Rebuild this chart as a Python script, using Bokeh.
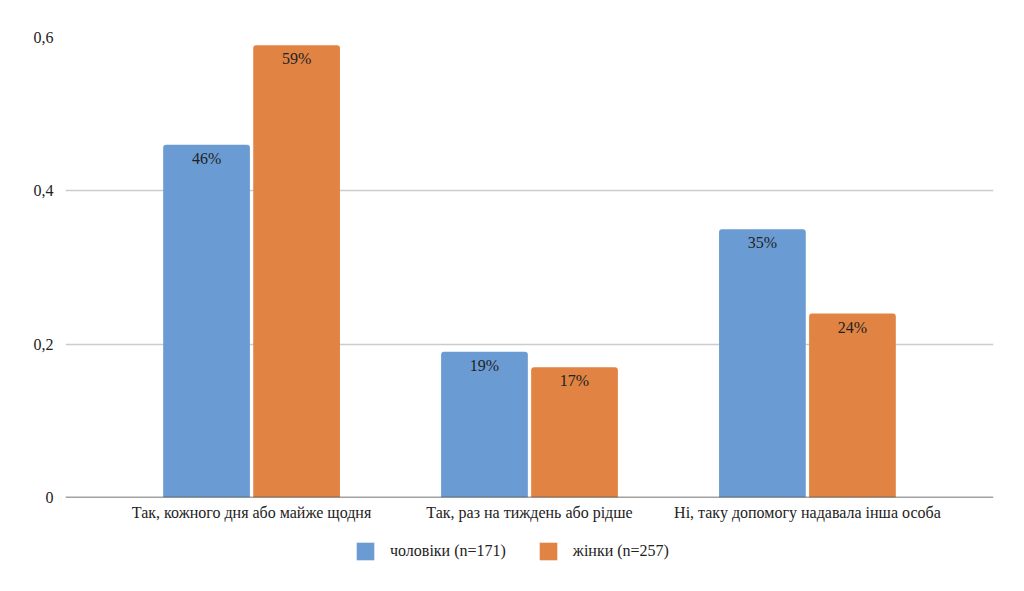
from bokeh.plotting import figure
from bokeh.layouts import column
from bokeh.models import (ColumnDataSource, FactorRange, Range1d, FixedTicker,
                          CustomJSTickFormatter, Legend, LegendItem, Span)
from bokeh.transform import dodge
from bokeh.core.properties import value
from bokeh.embed import file_html
from bokeh.resources import INLINE

categories = ["Так, кожного дня або майже щодня",
              "Так, раз на тиждень або рідше",
              "Ні, таку допомогу надавала інша особа"]
men = [0.46, 0.19, 0.35]
women = [0.59, 0.17, 0.24]
series_names = ["чоловіки (n=171)", "жінки (n=257)"]
y_ticks = [0, 0.2, 0.4, 0.6]

FONT = "'Liberation Serif', 'Times New Roman', serif"
FS = "16px"
BLUE = "#6a9bd3"
ORANGE = "#e08343"
TXT = "#222222"

src = ColumnDataSource(dict(
    cat=categories, men=men, women=women,
    men_lbl=[f"{round(v*100)}%" for v in men],
    women_lbl=[f"{round(v*100)}%" for v in women],
))

p = figure(width=1016, height=537, output_backend="svg", toolbar_location=None,
           x_range=FactorRange(*categories, range_padding=0.113, range_padding_units="percent"),
           y_range=Range1d(0, 0.6),
           min_border_left=65, min_border_right=23, min_border_top=37, min_border_bottom=40)
p.outline_line_color = None

p.vbar(x=dodge("cat", -0.162, range=p.x_range), top="men", width=0.312, source=src,
       fill_color=BLUE, line_color=None, border_radius=[3, 3, 0, 0])
p.vbar(x=dodge("cat", 0.162, range=p.x_range), top="women", width=0.312, source=src,
       fill_color=ORANGE, line_color=None, border_radius=[3, 3, 0, 0])

p.text(x=dodge("cat", -0.162, range=p.x_range), y="men", text="men_lbl", source=src,
       y_offset=5, text_align="center", text_baseline="top",
       text_font=value(FONT), text_font_size=FS, text_color=TXT)
p.text(x=dodge("cat", 0.162, range=p.x_range), y="women", text="women_lbl", source=src,
       y_offset=5, text_align="center", text_baseline="top",
       text_font=value(FONT), text_font_size=FS, text_color=TXT)

p.xgrid.grid_line_color = None
p.ygrid.grid_line_color = "#cccccc"
p.ygrid.grid_line_width = 1.3

p.yaxis.ticker = FixedTicker(ticks=y_ticks)
p.yaxis.formatter = CustomJSTickFormatter(code="return tick == 0 ? '0' : tick.toFixed(1).replace('.', ',');")
p.yaxis.axis_line_color = None
p.yaxis.major_tick_line_color = None
p.yaxis.minor_tick_line_color = None
p.yaxis.major_tick_out = 0
p.yaxis.major_tick_in = 0
p.yaxis.major_label_standoff = 12
p.yaxis.major_label_text_font = FONT
p.yaxis.major_label_text_font_size = FS
p.yaxis.major_label_text_color = TXT

p.xaxis.axis_line_color = None
p.xaxis.major_tick_line_color = None
p.xaxis.minor_tick_line_color = None
p.xaxis.major_tick_out = 0
p.xaxis.major_tick_in = 0
p.xaxis.major_label_standoff = 6
p.xaxis.major_label_text_font = FONT
p.xaxis.major_label_text_font_size = FS
p.xaxis.major_label_text_color = TXT

p.add_layout(Span(location=0, dimension="width", line_color="#444444", line_width=1.5))

# legend strip (legend swatches only; the dummy bars lie outside the visible range)
lg = figure(width=1016, height=50, output_backend="svg", toolbar_location=None,
            x_range=Range1d(0, 1), y_range=Range1d(0, 1),
            min_border_left=0, min_border_right=0, min_border_top=0, min_border_bottom=0)
lg.outline_line_color = None
lg.axis.visible = False
lg.grid.visible = False
dummy = ColumnDataSource(dict(x=[5], top=[0]))
g1 = lg.vbar(x="x", top="top", width=0.1, source=dummy, fill_color=BLUE, line_color=None)
g2 = lg.vbar(x="x", top="top", width=0.1, source=dummy, fill_color=ORANGE, line_color=None)
legend = Legend(items=[LegendItem(label=series_names[0], renderers=[g1]),
                       LegendItem(label=series_names[1], renderers=[g2])],
                orientation="horizontal", location=(289, 25),
                glyph_width=22, glyph_height=22, label_standoff=14, spacing=31,
                padding=0, margin=0, border_line_alpha=0, background_fill_alpha=0,
                label_text_font=FONT, label_text_font_size=FS, label_text_color=TXT)
lg.add_layout(legend, "center")

layout = column(p, lg, spacing=0)
open("out.html", "w").write(file_html(layout, INLINE))
